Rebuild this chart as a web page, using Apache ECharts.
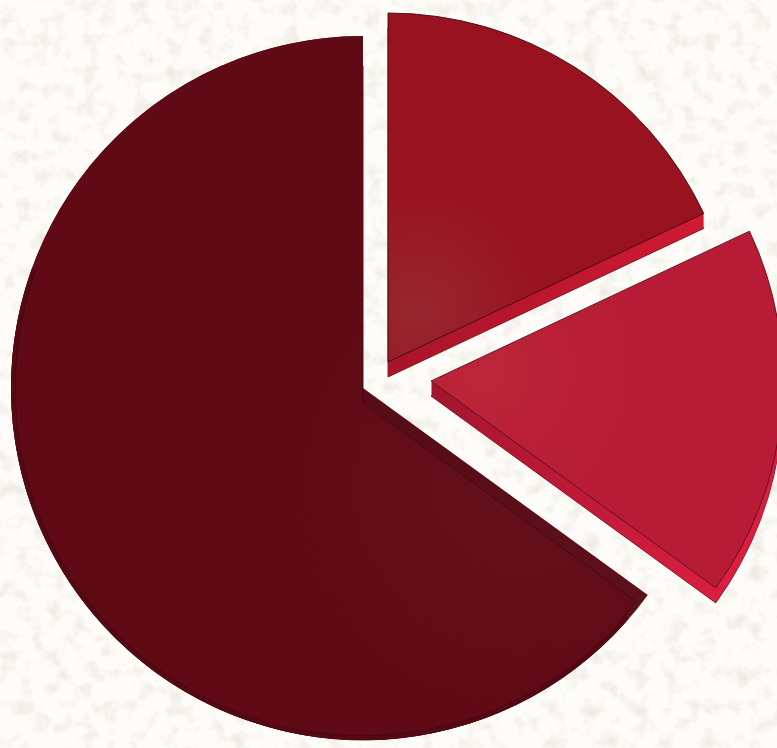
<!DOCTYPE html>
<html>
<head>
<meta charset="utf-8">
<script src="https://cdn.jsdelivr.net/npm/echarts@6/dist/echarts.min.js"></script>
<style>
html,body{margin:0;padding:0;width:777px;height:748px;overflow:hidden;background:#fbfaf5}
#main{position:absolute;left:0;top:0;width:777px;height:748px}
</style>
</head>
<body>
<svg width="777" height="748" style="position:absolute;left:0;top:0">
  <filter id="mottle" x="0" y="0" width="100%" height="100%">
    <feTurbulence type="fractalNoise" baseFrequency="0.06" numOctaves="5" seed="23"/>
    <feColorMatrix values="0 0 0 0 0.74  0 0 0 0 0.71  0 0 0 0 0.63  1.3 0 0 0 -0.62"/>
  </filter>
  <rect width="777" height="748" fill="#fdfcf8"/>
  <rect width="777" height="748" filter="url(#mottle)"/>
</svg>
<div id="main"></div>
<script>
const categories = ['Largest share', 'Upper share', 'Lower share'];
const values = [65, 18, 17];

const total = values.reduce((a, b) => a + b, 0);
const sweep = values.map(v => v / total * 360);
const upperEnd = sweep[1];
const lowerEnd = upperEnd + sweep[2];

function wedge(cx, cy, r0, r1, from, to, color, value, border, z) {
  return {
    type: 'pie', silent: true, animation: false, z: z || 2,
    center: [cx, cy], radius: [r0, r1],
    startAngle: 90 - from, endAngle: 90 - to, clockwise: true,
    label: { show: false }, labelLine: { show: false },
    emphasis: { disabled: true },
    itemStyle: Object.assign({ color: color }, border ? { borderColor: border, borderWidth: 0.9 } : { borderWidth: 0 }),
    data: [{ value: value, name: 'slice' }]
  };
}
function radial(x, y, r, c0, c1) {
  return { type: 'radial', x: x, y: y, r: r, global: true,
    colorStops: [{ offset: 0, color: c0 }, { offset: 1, color: c1 }] };
}
function linear(x0, y0, x1, y1, c0, c1) {
  return { type: 'linear', x: x0, y: y0, x2: x1, y2: y1, global: true,
    colorStops: [{ offset: 0, color: c0 }, { offset: 1, color: c1 }] };
}
const series = [];

// largest slice: base with the cut band, then the face
const bigCx = 363, bigCy = 388, bigR = 352;
const bigFace = radial(520, 480, 230, '#65111c', '#5f0a15');
series.push(wedge(bigCx, bigCy, 0, bigR, lowerEnd, 360, linear(363, 387, 648, 590, '#560d18', '#5c101b'), values[0]));
series.push(wedge(bigCx, bigCy + 15, 0, bigR - 15, lowerEnd, 360, bigFace, values[0], '#44090f'));
series.push(wedge(bigCx, bigCy, 120, bigR, lowerEnd + 6, 360, bigFace, values[0]));
series.push(wedge(bigCx, bigCy, bigR - 4, bigR, lowerEnd + 5, 290, '#530a14', values[0]));
series.push(wedge(bigCx, bigCy, bigR - 4.6, bigR - 4, lowerEnd + 5, 290, '#3f070e', values[0]));

// upper slice
const upCx = 388, upCy = 362, upR = 349, depth = 15;
const upSide = linear(388, 370, 706, 222, '#a8142a', '#d01a33');
for (let d = depth; d >= 1; d--) {
  series.push(wedge(upCx, upCy + d, 0, upR, 0, upperEnd, upSide, values[1], d === depth ? '#7a1019' : null, 3));
}
series.push(wedge(upCx, upCy, 0, upR, 0, upperEnd,
  radial(upCx + 30, upCy - 50, 130, '#97262f', '#99121f'), values[1], '#3f0a12', 3));

// lower slice
const loCx = 431, loCy = 381, loR = 352;
const loSide = linear(431, 388, 718, 592, '#a3152f', '#da1e40');
for (let d = depth; d >= 1; d--) {
  series.push(wedge(loCx, loCy + d, 0, loR, upperEnd, lowerEnd, loSide, values[2], d === depth ? '#7a1024' : null, 3));
}
series.push(wedge(loCx, loCy, 0, loR, upperEnd, lowerEnd,
  radial(loCx + 50, loCy - 10, 170, '#bb2539', '#b81b36'), values[2], '#5a0f1c', 3));

const chart = echarts.init(document.getElementById('main'), null, { renderer: 'canvas' });
chart.setOption({ backgroundColor: 'transparent', animation: false, series: series });
</script>
</body>
</html>
